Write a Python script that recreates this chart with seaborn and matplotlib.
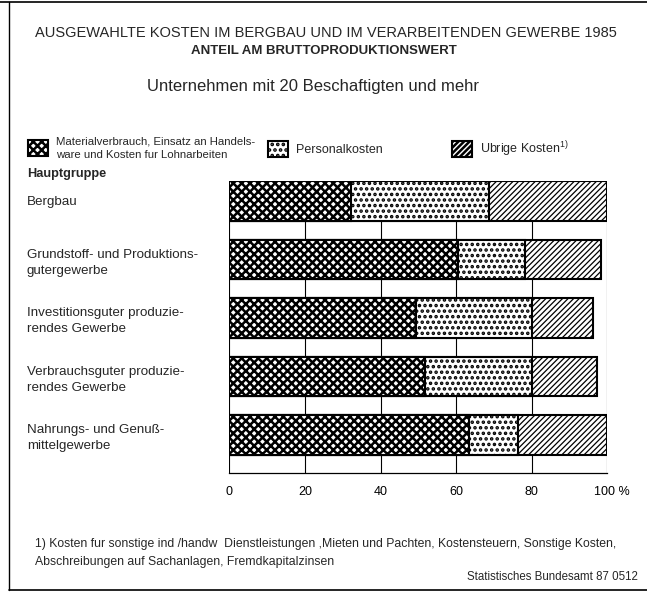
import numpy as np
import pandas as pd
import matplotlib
matplotlib.use("Agg")
import matplotlib.pyplot as plt
import matplotlib.lines as mlines
import matplotlib.transforms as mtransforms
import seaborn as sns

# ---------------- data ----------------
categories = [
    "Bergbau",
    "Grundstoff- und Produktions-\ngutergewerbe",
    "Investitionsguter produzie-\nrendes Gewerbe",
    "Verbrauchsguter produzie-\nrendes Gewerbe",
    "Nahrungs- und Genuß-\nmittelgewerbe",
]
material = [32.2, 60.4, 49.4, 51.8, 63.5]
personal = [36.6, 17.8, 30.8, 28.2, 13.0]
uebrige = [31.2, 20.1, 15.9, 17.4, 23.3]
series_names = [
    "Materialverbrauch, Einsatz an Handels-\nware und Kosten fur Lohnarbeiten",
    "Personalkosten",
    "Ubrige Kosten$^{\\mathrm{1)}}$",
]
xticks = [0, 20, 40, 60, 80, 100]
xticklabels = ["0", "20", "40", "60", "80", "100 %"]

title = "AUSGEWAHLTE KOSTEN IM BERGBAU UND IM VERARBEITENDEN GEWERBE 1985"
subtitle = "ANTEIL AM BRUTTOPRODUKTIONSWERT"
subtitle2 = "Unternehmen mit 20 Beschaftigten und mehr"
footnote = ("1) Kosten fur sonstige ind /handw  Dienstleistungen ,Mieten und Pachten, Kostensteuern, Sonstige Kosten,\n"
            "Abschreibungen auf Sachanlagen, Fremdkapitalzinsen")
source = "Statistisches Bundesamt 87 0512"

# ---------------- style ----------------
sns.set_theme(style="white")
FONT = "Liberation Sans"
plt.rcParams["font.family"] = [FONT, "DejaVu Sans"]
plt.rcParams["mathtext.fontset"] = "custom"
plt.rcParams["mathtext.rm"] = FONT
plt.rcParams["mathtext.it"] = FONT + ":italic"
plt.rcParams["mathtext.bf"] = FONT + ":bold"
plt.rcParams["hatch.color"] = "black"

df = pd.DataFrame({
    "Hauptgruppe": categories,
    "Material": material,
    "Personal": personal,
    "Uebrige": uebrige,
})
df["cum_mp"] = df["Material"] + df["Personal"]
df["cum_all"] = df["cum_mp"] + df["Uebrige"]

W, H = 647, 593
fig = plt.figure(figsize=(W / 100, H / 100), dpi=100)
fig.patch.set_facecolor("white")

x0_px, x100_px = 229.3, 607.3
top_px, bot_px = 181, 473
ax = fig.add_axes([x0_px / W, 1 - bot_px / H, (x100_px - x0_px) / W, (bot_px - top_px) / H])

layers = [
    ("cum_all", "//////", 0.9),
    ("cum_mp", "...", 1.7),
    ("Material", "xxxx", 1.8),
]
handles = []
for col, hatch, hlw in layers:
    plt.rcParams["hatch.linewidth"] = hlw
    n_before = len(ax.patches)
    sns.barplot(data=df, x=col, y="Hauptgruppe", orient="h", color="white",
                saturation=1, edgecolor="black", linewidth=1.5, hatch=hatch,
                width=0.68, ax=ax)
    new = ax.patches[n_before:]
    for p in new:
        p.set_hatch(hatch)
        if hasattr(p, "set_hatch_linewidth"):
            p.set_hatch_linewidth(hlw)
    handles.append(new[0])
handles = handles[::-1]  # material, personal, uebrige

ax.set_xlim(0, 100)
ax.set_ylim(4.65, -0.34)
ax.set_xlabel("")
ax.set_ylabel("")
for s in ["top", "right", "left"]:
    ax.spines[s].set_visible(False)
ax.spines["bottom"].set_color("black")
ax.spines["bottom"].set_linewidth(0.9)
ax.set_axisbelow(True)
ax.xaxis.grid(True, color="black", linewidth=0.8)
ax.yaxis.grid(False)

ax.set_xticks(xticks)
ax.set_xticklabels(xticklabels, fontsize=9)
ax.tick_params(axis="x", direction="out", length=6.5, width=0.8, pad=3, colors="black")
lab = ax.get_xticklabels()[-1]
lab.set_transform(lab.get_transform() + mtransforms.ScaledTranslation(5 / 100, 0, fig.dpi_scale_trans))

ax.set_yticks(range(len(categories)))
ax.set_yticklabels(categories, fontsize=9.6, linespacing=1.4)
for t in ax.get_yticklabels():
    t.set_horizontalalignment("left")
ax.tick_params(axis="y", length=0, pad=(x0_px - 27) * 0.72)

# ---------------- texts ----------------
fig.text(326 / W, 1 - 33 / H, title, ha="center", va="center", fontsize=10.5)
fig.text(324 / W, 1 - 51 / H, subtitle, ha="center", va="center", fontsize=9.5, fontweight="bold")
fig.text(313 / W, 1 - 87 / H, subtitle2, ha="center", va="center", fontsize=12)
fig.text(27 / W, 1 - 174 / H, "Hauptgruppe", ha="left", va="center", fontsize=9.2, fontweight="bold")
fig.text(35 / W, 1 - 553 / H, footnote, ha="left", va="center", fontsize=8.8, linespacing=1.6)
fig.text(638 / W, 1 - 577 / H, source, ha="right", va="center", fontsize=8.3)

# ---------------- legends ----------------
leg_pos = [(28, 148), (268, 149), (452, 149)]
leg_fs = [8.2, 9, 9]
for h, name, (lx, ly), fs in zip(handles, series_names, leg_pos, leg_fs):
    leg = fig.legend([h], [name], loc="center left", bbox_to_anchor=(lx / W, 1 - ly / H),
                     frameon=False, fontsize=fs, handlelength=20 / (fs * 100 / 72),
                     handleheight=20 / (fs * 100 / 72),
                     handletextpad=8 / (fs * 100 / 72), borderpad=0, borderaxespad=0)
    for t in leg.get_texts():
        t.set_linespacing(1.4)

# ---------------- frame lines ----------------
fig.add_artist(mlines.Line2D([9 / W, 9 / W], [1 - 2 / H, 1 - 590 / H], transform=fig.transFigure, color="black", lw=1.0))
fig.add_artist(mlines.Line2D([0, 1], [1 - 2 / H, 1 - 2 / H], transform=fig.transFigure, color="black", lw=1.2))
fig.add_artist(mlines.Line2D([9 / W, 1], [1 - 590 / H, 1 - 590 / H], transform=fig.transFigure, color="black", lw=1.2))

fig.savefig("out.png", dpi=100, facecolor="white")
